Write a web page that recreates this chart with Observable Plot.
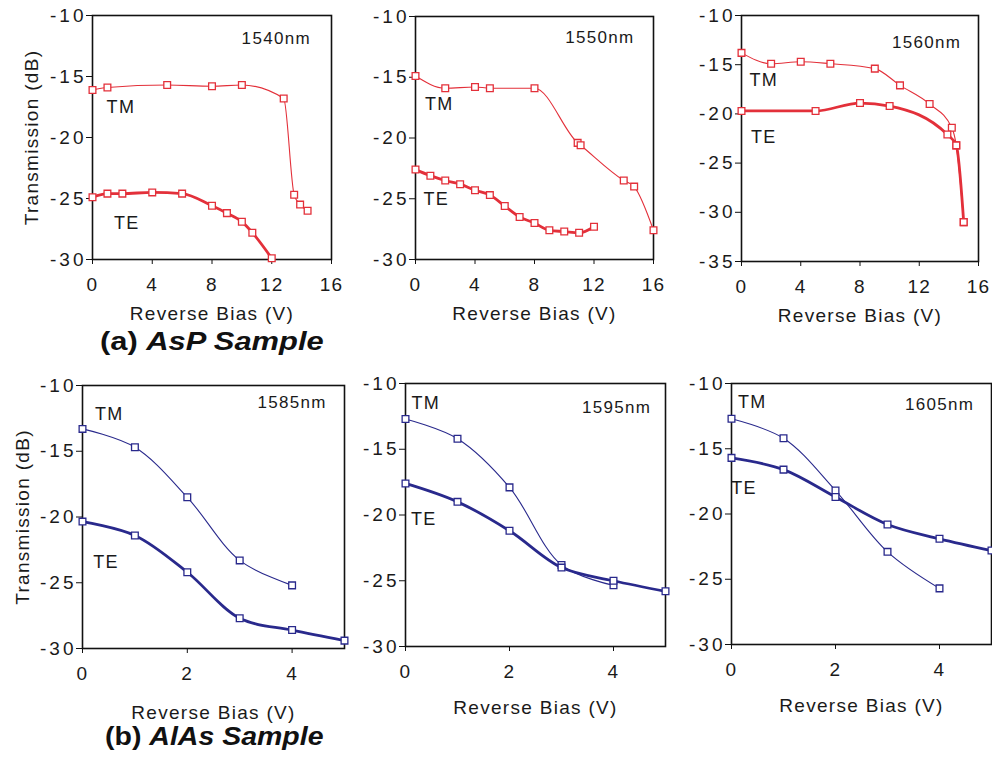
<!DOCTYPE html>
<html>
<head>
<meta charset="utf-8">
<script src="https://cdn.jsdelivr.net/npm/d3@7"></script>
<script src="https://cdn.jsdelivr.net/npm/@observablehq/plot@0.6"></script>
<style>
  html, body { margin: 0; padding: 0; background: #fff; }
  #chart { position: relative; width: 992px; height: 758px; background: #fff; overflow: hidden; }
  .panel { position: absolute; }
  .title { position: absolute; font-family: "Liberation Sans", Arial, sans-serif; font-weight: bold; font-size: 25px; line-height: 25px; color: #111; white-space: nowrap; transform-origin: left top; }
  .title i { font-style: italic; }
  g[aria-label="y-axis tick label"] text { letter-spacing: 3px; }
</style>
</head>
<body>
<div id="chart">
  <div class="title" style="left:100px; top:329px; transform: scaleX(1.235);">(a) <i>AsP Sample</i></div>
  <div class="title" style="left:105px; top:724px; transform: scaleX(1.14);">(b) <i>AlAs Sample</i></div>
</div>
<script>
// ---------- Data ----------
// (a) AsP sample
const asp1540_TM_V  = [0, 1, 5, 8, 10, 12.8, 13.5, 13.9, 14.4];
const asp1540_TM_dB = [-16.1, -15.9, -15.7, -15.8, -15.7, -16.8, -24.7, -25.5, -26.0];
const asp1540_TE_V  = [0, 1, 2, 4, 6, 8, 9, 10, 10.7, 12];
const asp1540_TE_dB = [-24.9, -24.6, -24.6, -24.5, -24.6, -25.6, -26.2, -26.9, -27.8, -29.9];

const asp1550_TM_V  = [0, 2, 4, 5, 8, 10.9, 11.1, 14, 14.7, 16];
const asp1550_TM_dB = [-14.9, -15.9, -15.8, -15.9, -15.9, -20.4, -20.6, -23.5, -24.0, -27.6];
const asp1550_TE_V  = [0, 1, 2, 3, 4, 5, 6, 7, 8, 9, 10, 11, 12];
const asp1550_TE_dB = [-22.6, -23.1, -23.5, -23.8, -24.3, -24.7, -25.6, -26.5, -27.0, -27.6, -27.7, -27.8, -27.3];

const asp1560_TM_V  = [0, 2, 4, 6, 9, 10.7, 12.7, 14.2, 14.5, 15];
const asp1560_TM_dB = [-13.8, -14.9, -14.7, -14.9, -15.4, -17.1, -19.0, -21.4, -23.2, -31.0];
const asp1560_TE_V  = [0, 5, 8, 10, 13.9, 14.5, 15];
const asp1560_TE_dB = [-19.7, -19.7, -18.9, -19.2, -22.1, -23.2, -31.0];

// (b) AlAs sample
const alas1585_TM_V  = [0, 1, 2, 3, 4];
const alas1585_TM_dB = [-13.3, -14.7, -18.5, -23.3, -25.2];
const alas1585_TE_V  = [0, 1, 2, 3, 4, 5];
const alas1585_TE_dB = [-20.35, -21.4, -24.2, -27.7, -28.6, -29.4];

const alas1595_TM_V  = [0, 1, 2, 3, 4];
const alas1595_TM_dB = [-12.7, -14.2, -17.9, -23.8, -25.35];
const alas1595_TE_V  = [0, 1, 2, 3, 4, 5];
const alas1595_TE_dB = [-17.6, -19.0, -21.2, -24.0, -25.0, -25.8];

const alas1605_TM_V  = [0, 1, 2, 3, 4];
const alas1605_TM_dB = [-12.7, -14.2, -18.2, -22.9, -25.7];
const alas1605_TE_V  = [0, 1, 2, 3, 4, 5];
const alas1605_TE_dB = [-15.7, -16.6, -18.7, -20.8, -21.9, -22.8];

// Tick labels
const aspXTicks  = [0, 4, 8, 12, 16];
const alasXTicks = [0, 2, 4];
const yTicks30   = [-30, -25, -20, -15, -10];
const yTicks35   = [-35, -30, -25, -20, -15, -10];

// Texts
const wavelengths = ["1540nm", "1550nm", "1560nm", "1585nm", "1595nm", "1605nm"];
const xTitle = "Reverse Bias (V)";
const yTitle = "Transmission (dB)";

// ---------- Rendering ----------
const FONT = '"Liberation Sans", Arial, sans-serif';
const RED = "#e3303a";
const BLUE = "#29298c";

const panels = [
  {wl: wavelengths[0], tmV: asp1540_TM_V, tmDB: asp1540_TM_dB, teV: asp1540_TE_V, teDB: asp1540_TE_dB,
   color: RED, xd: [0, 16], xt: aspXTicks, yd: [-30, -10], yt: yTicks30, ylab: true, curve: "monotone-x",
   left: 0, top: 0, w: 345, h: 325, ml: 92, mr: 14, mt: 15, mb: 66, xlo: 60, ylo: 68,
   tmPos: [1.9, -17.5], tePos: [2.3, -27.05], wlPos: [12.3, -11.9]},
  {wl: wavelengths[1], tmV: asp1550_TM_V, tmDB: asp1550_TM_dB, teV: asp1550_TE_V, teDB: asp1550_TE_dB,
   color: RED, xd: [0, 16], xt: aspXTicks, yd: [-30, -10], yt: yTicks30, ylab: false, curve: "monotone-x",
   left: 345, top: 0, w: 320, h: 325, ml: 70, mr: 12, mt: 16, mb: 66, xlo: 60, ylo: 60,
   tmPos: [1.6, -17.2], tePos: [1.4, -25.0], wlPos: [12.4, -11.7]},
  {wl: wavelengths[2], tmV: asp1560_TM_V, tmDB: asp1560_TM_dB, teV: asp1560_TE_V, teDB: asp1560_TE_dB,
   color: RED, xd: [0, 16], xt: aspXTicks, yd: [-35, -10], yt: yTicks35, ylab: false, curve: "monotone-x",
   left: 665, top: 0, w: 327, h: 325, ml: 76, mr: 14, mt: 15, mb: 64, xlo: 60, ylo: 60,
   tmPos: [1.5, -16.6], tePos: [1.5, -22.4], wlPos: [12.5, -12.7]},
  {wl: wavelengths[3], tmV: alas1585_TM_V, tmDB: alas1585_TM_dB, teV: alas1585_TE_V, teDB: alas1585_TE_dB,
   color: BLUE, xd: [0, 5], xt: alasXTicks, yd: [-30, -10], yt: yTicks30, ylab: true, curve: "catmull-rom",
   left: 0, top: 370, w: 350, h: 350, ml: 82, mr: 6, mt: 15, mb: 72, xlo: 70, ylo: 67,
   tmPos: [0.51, -12.2], tePos: [0.45, -23.45], wlPos: [4.0, -11.3]},
  {wl: wavelengths[4], tmV: alas1595_TM_V, tmDB: alas1595_TM_dB, teV: alas1595_TE_V, teDB: alas1595_TE_dB,
   color: BLUE, xd: [0, 5], xt: alasXTicks, yd: [-30, -10], yt: yTicks30, ylab: false, curve: "catmull-rom",
   left: 350, top: 370, w: 320, h: 350, ml: 55, mr: 5, mt: 13, mb: 74, xlo: 67, ylo: 60,
   tmPos: [0.39, -11.5], tePos: [0.35, -20.3], wlPos: [4.06, -11.8]},
  {wl: wavelengths[5], tmV: alas1605_TM_V, tmDB: alas1605_TM_dB, teV: alas1605_TE_V, teDB: alas1605_TE_dB,
   color: BLUE, xd: [0, 5], xt: alasXTicks, yd: [-30, -10], yt: yTicks30, ylab: false, curve: "catmull-rom",
   left: 670, top: 370, w: 322, h: 350, ml: 61, mr: 1, mt: 13, mb: 76, xlo: 67, ylo: 60,
   tmPos: [0.4, -11.4], tePos: [0.24, -18.05], wlPos: [4.0, -11.65]}
];

const chart = document.getElementById("chart");

for (const p of panels) {
  const tm = p.tmV.map((v, i) => ({v, db: p.tmDB[i]}));
  const te = p.teV.map((v, i) => ({v, db: p.teDB[i]}));
  const labels = [
    {x: p.tmPos[0], y: p.tmPos[1], t: "TM", fs: 18},
    {x: p.tePos[0], y: p.tePos[1], t: "TE", fs: 18},
    {x: p.wlPos[0], y: p.wlPos[1], t: p.wl, fs: 17}
  ];
  const svg = Plot.plot({
    width: p.w, height: p.h,
    marginLeft: p.ml, marginRight: p.mr, marginTop: p.mt, marginBottom: p.mb,
    style: {fontFamily: FONT, fontSize: "19px", color: "#1a1a1a", background: "transparent", overflow: "visible", letterSpacing: "1.3px"},
    x: {domain: p.xd},
    y: {domain: p.yd},
    marks: [
      Plot.axisX({ticks: p.xt, tickSize: 5, tickPadding: 13, tickFormat: d => String(d), fontSize: 19,
                  label: xTitle, labelAnchor: "center", labelArrow: "none", labelOffset: p.xlo, stroke: "#111"}),
      Plot.axisY({ticks: p.yt, tickSize: 6, tickPadding: 0, tickFormat: d => String(d), fontSize: 19,
                  label: p.ylab ? yTitle : null, labelAnchor: "center", labelArrow: "none", labelOffset: p.ylo, stroke: "#111"}),
      Plot.frame({stroke: "#111", strokeWidth: 1.6}),
      Plot.line(tm, {x: "v", y: "db", stroke: p.color, strokeWidth: 1.1, curve: p.curve}),
      Plot.line(te, {x: "v", y: "db", stroke: p.color, strokeWidth: 2.8, curve: p.curve}),
      Plot.dot(tm, {x: "v", y: "db", symbol: "square", r: 3.8, stroke: p.color, strokeWidth: 1.3, fill: "white"}),
      Plot.dot(te, {x: "v", y: "db", symbol: "square", r: 3.8, stroke: p.color, strokeWidth: 1.3, fill: "white"}),
      Plot.text(labels, {x: "x", y: "y", text: "t", fontSize: "fs", fill: "#1a1a1a", textAnchor: "middle"})
    ]
  });
  const div = document.createElement("div");
  div.className = "panel";
  div.style.left = p.left + "px";
  div.style.top = p.top + "px";
  div.appendChild(svg);
  chart.appendChild(div);
}
</script>
</body>
</html>
